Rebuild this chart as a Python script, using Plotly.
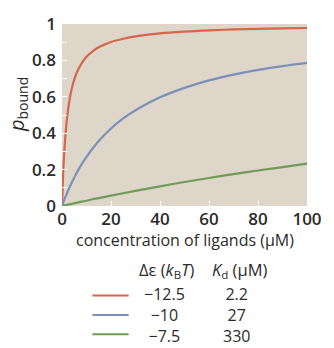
import plotly.graph_objects as go

# concentration of ligands (uM)
conc = [0, 0.5, 1, 1.5, 2, 3, 4, 5, 6, 8, 10, 12.5, 15, 20, 25, 30, 40, 50, 60, 70, 80, 90, 100]
# p_bound
p_red = [0, 0.185, 0.312, 0.405, 0.476, 0.577, 0.645, 0.694, 0.732, 0.784, 0.820, 0.850, 0.872,
         0.901, 0.919, 0.932, 0.948, 0.958, 0.965, 0.970, 0.973, 0.976, 0.978]
p_blue = [0, 0.018, 0.036, 0.053, 0.069, 0.100, 0.129, 0.156, 0.182, 0.229, 0.270, 0.316, 0.357,
          0.426, 0.481, 0.526, 0.597, 0.649, 0.690, 0.722, 0.748, 0.769, 0.787]
p_green = [0, 0.0015, 0.003, 0.0045, 0.006, 0.009, 0.012, 0.015, 0.018, 0.024, 0.029, 0.037, 0.043,
           0.057, 0.070, 0.083, 0.108, 0.132, 0.154, 0.175, 0.195, 0.214, 0.233]

delta_eps = ["\u221212.5", "\u221210", "\u22127.5"]
kd_vals = ["2.2", "27", "330"]
colors = ["#d4674c", "#7d90b8", "#6e9c58"]

x_ticks = [0, 20, 40, 60, 80, 100]
y_ticks = [0, 0.2, 0.4, 0.6, 0.8, 1]
y_tick_text = ["0", "0.2", "0.4", "0.6", "0.8", "1"]

FONT = "Open Sans"
TXT = "#2b2b2b"

fig = go.Figure()
for ys, c in zip([p_red, p_blue, p_green], colors):
    fig.add_trace(go.Scatter(x=conc, y=ys, mode="lines", line=dict(color=c, width=2.2, shape="spline"),
                             showlegend=False, hoverinfo="skip"))

# plot area in pixels: left 62, right 312, top 13, bottom 206
L, R, T, B = 62, 312, 13, 206
W, H = 334, 348


def px(xp):
    return (xp - L) / (R - L)


def py(yp):
    return (B - yp) / (B - T)


fig.update_layout(
    width=W, height=H,
    margin=dict(l=L, r=W - R, t=T, b=H - B, pad=0),
    paper_bgcolor="white",
    plot_bgcolor="#ddd6c9",
    font=dict(family=FONT, color=TXT),
    xaxis=dict(range=[0, 100], tickvals=x_ticks, ticks="inside", ticklen=5, tickcolor="white",
               showgrid=False, zeroline=False, showline=False, ticklabelstandoff=1,
               tickfont=dict(size=17, family=FONT, color=TXT, weight=600),
               minor=dict(ticks="")),
    yaxis=dict(range=[0, 1], tickvals=y_ticks, ticktext=y_tick_text, ticks="inside", ticklen=5,
               tickcolor="white", showgrid=False, zeroline=False, showline=False, ticklabelstandoff=5,
               tickfont=dict(size=17, family=FONT, color=TXT, weight=600),
               minor=dict(ticks="inside", ticklen=5, tickcolor="white", dtick=0.1)),
)

# x axis title
fig.add_annotation(xref="paper", yref="paper", x=px(187), y=py(242),
                   text="concentration of ligands (\u03bcM)", showarrow=False,
                   font=dict(size=16, family=FONT, color=TXT), xanchor="center", yanchor="middle")

# y axis title
fig.add_annotation(xref="paper", yref="paper", x=px(16), y=py(98), text="<i>p</i><sub>bound</sub>",
                   textangle=-90, showarrow=False, font=dict(size=20, family=FONT, color=TXT),
                   xanchor="center", yanchor="middle")

# legend table
fig.add_annotation(xref="paper", yref="paper", x=px(169), y=py(274),
                   text="\u0394\u03b5 (<i>k</i><sub>B</sub><i>T</i>)", showarrow=False,
                   font=dict(size=16.5, family=FONT, color=TXT), xanchor="center", yanchor="middle")
fig.add_annotation(xref="paper", yref="paper", x=px(244), y=py(274),
                   text="<i>K</i><sub>d</sub> (\u03bcM)", showarrow=False,
                   font=dict(size=16.5, family=FONT, color=TXT), xanchor="center", yanchor="middle")
row_y = [301, 321.5, 342]
for c, ry in zip(colors, row_y):
    fig.add_shape(type="line", xref="paper", yref="paper", x0=px(93), x1=px(130), y0=py(ry), y1=py(ry),
                  line=dict(color=c, width=2))
fig.add_annotation(xref="paper", yref="paper", x=px(167), y=py(321.5), text="<br>".join(delta_eps),
                   showarrow=False, font=dict(size=16, family=FONT, color=TXT),
                   xanchor="center", yanchor="middle", align="center")
fig.add_annotation(xref="paper", yref="paper", x=px(240), y=py(321.5), text="<br>".join(kd_vals),
                   showarrow=False, font=dict(size=16, family=FONT, color=TXT),
                   xanchor="center", yanchor="middle", align="center")

fig.write_html("out.html", config={"displayModeBar": False},
               post_script="document.body.style.margin='0';")
